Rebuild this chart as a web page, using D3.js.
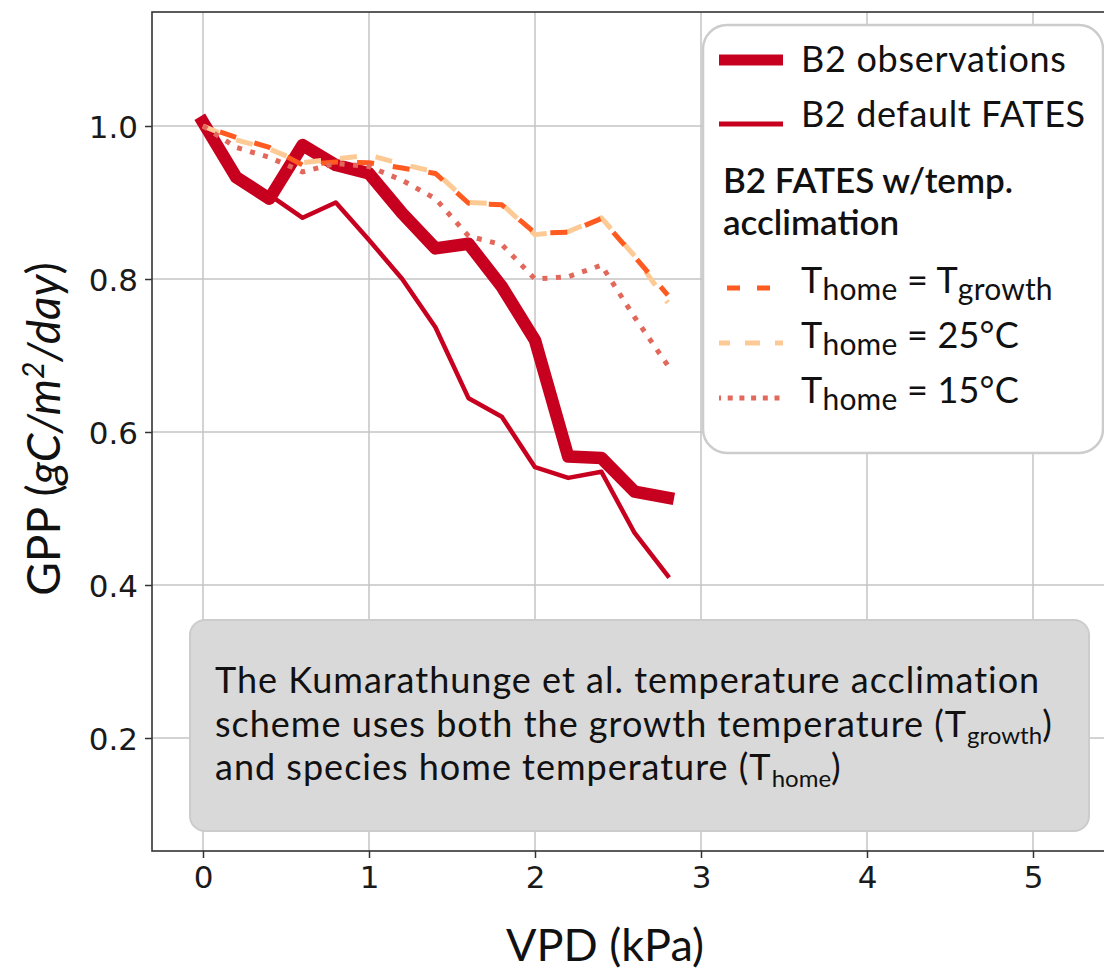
<!DOCTYPE html>
<html>
<head>
<meta charset="utf-8">
<script src="https://cdn.jsdelivr.net/npm/d3@7"></script>
<style>
  body { margin: 0; background: #fff; }
  svg { display: block; }
</style>
</head>
<body>
<svg id="chart" width="1104" height="973"></svg>
<script>
// VPD bins (kPa) and GPP responses (gC/m2/day, normalised)
const vpd = [0, 0.2, 0.4, 0.6, 0.8, 1.0, 1.2, 1.4, 1.6, 1.8, 2.0, 2.2, 2.4, 2.6, 2.8];
const gppObservations = [1.005, 0.933, 0.905, 0.975, 0.949, 0.938, 0.886, 0.840, 0.846, 0.790, 0.720, 0.568, 0.566, 0.522, 0.514];
const gppDefault      = [1.000, 0.936, 0.910, 0.880, 0.900, 0.851, 0.800, 0.737, 0.644, 0.620, 0.554, 0.540, 0.548, 0.468, 0.412];
const gppTgrowth      = [1.000, 0.985, 0.972, 0.949, 0.953, 0.952, 0.945, 0.938, 0.899, 0.897, 0.860, 0.861, 0.879, 0.829, 0.779];
const gppHome25       = [1.000, 0.982, 0.970, 0.952, 0.957, 0.962, 0.950, 0.940, 0.900, 0.898, 0.858, 0.862, 0.880, 0.830, 0.769];
const gppHome15       = [1.000, 0.972, 0.959, 0.940, 0.951, 0.947, 0.929, 0.905, 0.856, 0.845, 0.800, 0.803, 0.818, 0.750, 0.687];

const xTicks = [0, 1, 2, 3, 4, 5];
const yTicks = [0.2, 0.4, 0.6, 0.8, 1.0];

const TEXT_FONT = "Lato, 'Noto Sans', sans-serif";
const TICK_FONT = "'DejaVu Sans', sans-serif";

// plot frame
const frame = { left: 152, top: 12, right: 1130, bottom: 851 };

const svg = d3.select("#chart");

const x = d3.scaleLinear().domain([0, 5]).range([203, 1033]);
const y = d3.scaleLinear().domain([0.2, 1.0]).range([738, 126]);

// grid
const grid = svg.append("g");
grid.selectAll("line.vx").data(xTicks).join("line")
  .attr("x1", d => x(d)).attr("x2", d => x(d))
  .attr("y1", frame.top).attr("y2", frame.bottom)
  .attr("stroke", "#c4c4c4").attr("stroke-width", 1.5);
grid.selectAll("line.hy").data(yTicks).join("line")
  .attr("x1", frame.left).attr("x2", frame.right)
  .attr("y1", d => y(d)).attr("y2", d => y(d))
  .attr("stroke", "#c4c4c4").attr("stroke-width", 1.5);

// axes
const xAxis = svg.append("g").attr("transform", `translate(0,${frame.bottom})`)
  .call(d3.axisBottom(x).tickValues(xTicks).tickFormat(d3.format("d")).tickSize(7).tickPadding(6));
const yAxis = svg.append("g").attr("transform", `translate(${frame.left},0)`)
  .call(d3.axisLeft(y).tickValues(yTicks).tickFormat(d3.format(".1f")).tickSize(7).tickPadding(7));
[xAxis, yAxis].forEach(a => {
  a.select(".domain").remove();
  a.selectAll(".tick line").attr("stroke", "#333").attr("stroke-width", 1.5);
  a.selectAll(".tick text").attr("fill", "#1a1a1a")
    .style("font-family", TICK_FONT).style("font-size", "31px");
});
xAxis.selectAll(".tick text").attr("dy", "0.76em");
yAxis.selectAll(".tick text").attr("dy", "0.36em");

svg.append("rect")
  .attr("x", frame.left).attr("y", frame.top)
  .attr("width", frame.right - frame.left).attr("height", frame.bottom - frame.top)
  .attr("fill", "none").attr("stroke", "#333").attr("stroke-width", 1.6);

// series
const series = [
  { values: gppObservations, color: "#c8001f", width: 12.5, dash: null,    offset: 0,  cap: "square" },
  { values: gppDefault,      color: "#c8001f", width: 4.5,  dash: null,    offset: 0,  cap: "square" },
  { values: gppHome25,       color: "#fdca95", width: 5,    dash: "17,19", offset: 0,  cap: "butt" },
  { values: gppTgrowth,      color: "#ff5a1f", width: 5,    dash: "17,19", offset: 18, cap: "butt" },
  { values: gppHome15,       color: "#e3685c", width: 5,    dash: "5,8.5", offset: 0,  cap: "butt" }
];

const line = d3.line().x((d, i) => x(vpd[i])).y(d => y(d));

svg.append("g").selectAll("path").data(series).join("path")
  .attr("d", d => line(d.values))
  .attr("fill", "none")
  .attr("stroke", d => d.color)
  .attr("stroke-width", d => d.width)
  .attr("stroke-linejoin", "round")
  .attr("stroke-linecap", d => d.cap)
  .attr("stroke-dasharray", d => d.dash)
  .attr("stroke-dashoffset", d => d.offset);

// annotation box
const note = svg.append("g");
note.append("rect")
  .attr("x", 190).attr("y", 620).attr("width", 899).attr("height", 211)
  .attr("rx", 15).attr("fill", "#d9d9d9").attr("stroke", "#cccccc").attr("stroke-width", 2);

const noteText = note.append("text")
  .style("font-family", TEXT_FONT).style("font-size", "36px")
  .style("letter-spacing", "1px").attr("fill", "#111");
noteText.append("tspan").attr("x", 215).attr("y", 693)
  .text("The Kumarathunge et al. temperature acclimation");
const l2 = noteText.append("tspan").attr("x", 215).attr("y", 737);
l2.append("tspan").text("scheme uses both the growth temperature (T");
l2.append("tspan").attr("dy", 7).style("font-size", "24px").style("letter-spacing", "0px").text("growth");
l2.append("tspan").attr("dy", -7).text(")");
const l3 = noteText.append("tspan").attr("x", 215).attr("y", 780);
l3.append("tspan").text("and species home temperature (T");
l3.append("tspan").attr("dy", 7).style("font-size", "24px").style("letter-spacing", "0px").text("home");
l3.append("tspan").attr("dy", -7).text(")");

// legend
const legend = svg.append("g");
legend.append("rect")
  .attr("x", 703).attr("y", 25).attr("width", 400).attr("height", 428)
  .attr("rx", 24).attr("fill", "#fff").attr("stroke", "#cccccc").attr("stroke-width", 2.5);

const swatchX0 = 719, swatchX1 = 783, labelX = 801;

function swatch(yPos, s, dash, offset) {
  legend.append("line")
    .attr("x1", swatchX0).attr("x2", swatchX1).attr("y1", yPos).attr("y2", yPos)
    .attr("stroke", s.color).attr("stroke-width", s.width)
    .attr("stroke-dasharray", dash).attr("stroke-dashoffset", offset);
}

swatch(60, { color: "#c8001f", width: 11 }, null, 0);
swatch(124, { color: "#c8001f", width: 5 }, null, 0);
swatch(288, { color: "#ff5a1f", width: 5 }, "13,17", 22);
swatch(343, { color: "#fdca95", width: 5 }, "15,15", 4);
swatch(398, { color: "#e3685c", width: 5 }, "5,6.7", 3);

function legendText(xPos, yPos, size, weight, spacing) {
  return legend.append("text").attr("x", xPos).attr("y", yPos)
    .style("font-family", TEXT_FONT).style("font-size", size + "px")
    .style("font-weight", weight).style("letter-spacing", spacing + "px")
    .attr("fill", "#111");
}

legendText(labelX, 72, 36, 400, 0.7).text("B2 observations");
legendText(labelX, 127, 36, 400, 0.6).text("B2 default FATES");
legendText(723, 193, 35, 600, 0).text("B2 FATES w/temp.");
legendText(723, 235, 35, 600, 0).text("acclimation");

const homeLabels = [
  { yPos: 293, rest: " = T", sub2: "growth" },
  { yPos: 348, rest: " = 25°C", sub2: null },
  { yPos: 403, rest: " = 15°C", sub2: null }
];
homeLabels.forEach(h => {
  const t = legendText(labelX, h.yPos, 36, 400, 0.2);
  t.append("tspan").text("T");
  t.append("tspan").attr("dy", 7).style("font-size", "30px").text("home");
  t.append("tspan").attr("dy", -7).text(h.rest);
  if (h.sub2) t.append("tspan").attr("dy", 7).style("font-size", "30px").text(h.sub2);
});

// axis titles
svg.append("text")
  .attr("x", 605).attr("y", 961).attr("text-anchor", "middle")
  .style("font-family", TEXT_FONT).style("font-size", "45px").attr("fill", "#111")
  .text("VPD (kPa)");

const yTitle = svg.append("text")
  .attr("transform", "translate(60,429) rotate(-90)")
  .attr("text-anchor", "middle")
  .style("font-family", TEXT_FONT).style("font-size", "46px").attr("fill", "#111");
yTitle.append("tspan").text("GPP (");
yTitle.append("tspan").style("font-style", "italic").text("gC/m");
yTitle.append("tspan").attr("dy", -16).style("font-size", "30px").style("font-style", "italic").text("2");
yTitle.append("tspan").attr("dy", 16).style("font-style", "italic").text("/day");
yTitle.append("tspan").text(")");
</script>
</body>
</html>
